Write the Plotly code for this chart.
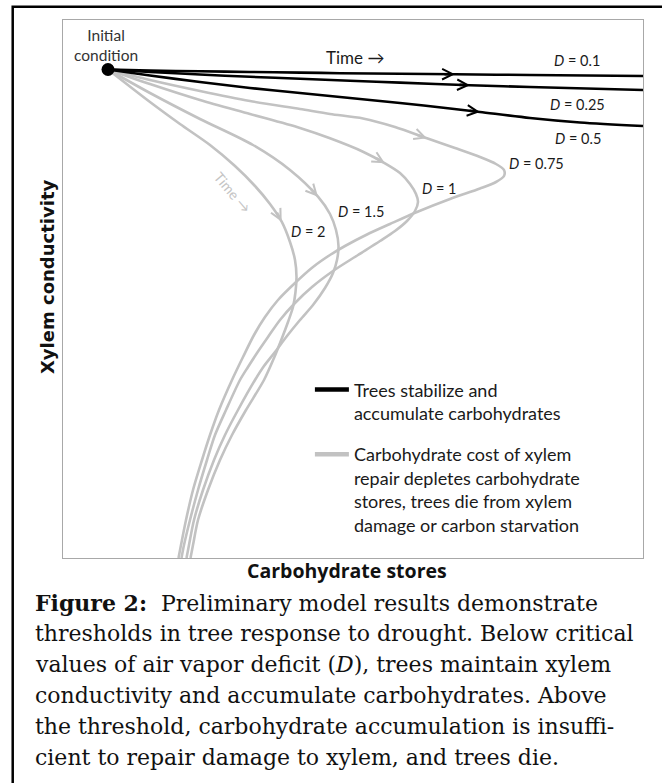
import plotly.graph_objects as go

# ---------------------------------------------------------------
# Values, in arbitrary units
# (carbohydrate stores along x, xylem conductivity along y,
#  origin at the lower-left corner of the plot box)
# ---------------------------------------------------------------
initial_x = [45]
initial_y = [488.5]

# trajectories that stabilise (black)
d01_x = [45, 87, 137, 187, 237, 277, 337, 392, 467, 580]
d01_y = [488.5, 487.5, 486.7, 486, 485.4, 484.8, 484.2, 483.7, 483, 482]

d025_x = [45, 87, 137, 187, 237, 287, 337, 407, 467, 580]
d025_y = [488.5, 486, 483.5, 481.2, 479.2, 477.2, 475.4, 472.8, 471, 468]

d05_x = [45, 87, 137, 187, 237, 287, 337, 387, 417, 467, 517, 580]
d05_y = [488.5, 482.5, 476, 470, 465, 460, 455, 449.5, 446, 440, 435.5, 432]

# trajectories that collapse (grey)
d075_x = [45, 87, 137, 187, 237, 267, 300, 332, 364, 392, 417, 433, 441, 441, 433,
          417, 387, 354, 327, 304, 282, 267, 250, 232, 215, 202, 191, 180, 169,
          156, 147, 139, 130, 123, 118, 115.5]
d075_y = [488.5, 478, 467, 457, 449, 444, 439.5, 431, 419.7, 410, 401, 394, 388, 382,
          376, 369.5, 359, 346, 334, 323.5, 312, 303, 291, 275, 258, 241, 223, 201,
          178, 148, 123, 98, 68, 38, 13, 0]

d1_x = [45, 87, 137, 187, 237, 267, 300, 322, 337, 347, 353, 355, 352, 344, 332,
        317, 295, 270, 249, 232, 217, 205, 194, 185, 177, 163, 152, 144, 135,
        127, 121, 118.5]
d1_y = [488.5, 474, 458, 444, 430, 419.7, 406.3, 394.7, 385, 374, 364, 356, 347,
        337, 327, 317, 303, 287, 271, 255, 238, 221, 205, 191, 178, 148, 123, 98,
        68, 38, 13, 0]

d15_x = [45, 87, 137, 190, 227, 255, 267, 273, 275.5, 274, 270, 262, 250, 237,
         224, 212, 201, 192, 175, 162, 151, 140, 131, 126, 123.5]
d15_y = [488.5, 465, 439, 413, 388, 361.3, 344, 328, 312, 298, 285, 270, 253, 238,
         222, 206, 192, 178, 148, 123, 98, 68, 38, 13, 0]

d2_x = [45, 87, 117, 147, 172, 192, 207, 218.7, 227, 232, 233.5, 232.5, 230, 225,
        219, 211, 201, 183, 169, 157, 145, 135, 130, 127.5]
d2_y = [488.5, 456, 434, 413, 392, 372, 354, 336.3, 316, 298, 281, 266, 251, 236,
        220, 200, 178, 148, 123, 98, 68, 38, 13, 0]

# where the "time" chevrons sit (index into each series)
arrow_index = {"0.1": 7, "0.25": 7, "0.5": 8, "0.75": 8, "1": 7, "1.5": 5, "2": 7}

legend_black = "Trees stabilize and<br>accumulate carbohydrates"
legend_grey = ("Carbohydrate cost of xylem<br>repair depletes carbohydrate<br>"
               "stores, trees die from xylem<br>damage or carbon starvation")

caption_lines = [
    "<b>Figure 2:</b>\u00a0 Preliminary model results demonstrate",
    "thresholds in tree response to drought. Below critical",
    "values of air vapor deficit (<i>D</i>), trees maintain xylem",
    "conductivity and accumulate carbohydrates. Above",
    "the threshold, carbohydrate accumulation is insuffi-",
    "cient to repair damage to xylem, and trees die.",
]

BLACK = "#000000"
GREY = "#c2c2c2"
LW = 2.6
SANS = "Lato"

series = [
    ("0.75", d075_x, d075_y, GREY),
    ("1", d1_x, d1_y, GREY),
    ("1.5", d15_x, d15_y, GREY),
    ("2", d2_x, d2_y, GREY),
    ("0.1", d01_x, d01_y, BLACK),
    ("0.25", d025_x, d025_y, BLACK),
    ("0.5", d05_x, d05_y, BLACK),
]

fig = go.Figure()
for name, xs, ys, col in series:
    fig.add_trace(go.Scatter(
        x=xs, y=ys, mode="lines", name="D = " + name,
        line=dict(color=col, width=LW, shape="spline", smoothing=0.8),
        showlegend=False, hoverinfo="skip",
        legendgroup="grey" if col == GREY else "black",
    ))

# legend keys
fig.add_trace(go.Scatter(x=[None], y=[None], mode="lines", name=legend_black,
                         line=dict(color=BLACK, width=4.5), legendgroup="black"))
fig.add_trace(go.Scatter(x=[None], y=[None], mode="lines", name=legend_grey,
                         line=dict(color=GREY, width=4.5), legendgroup="grey"))

# initial condition dot
fig.add_trace(go.Scatter(x=initial_x, y=initial_y, mode="markers",
                         marker=dict(color=BLACK, size=13), showlegend=False,
                         hoverinfo="skip"))

annotations = []

# chevrons showing the direction of time, oriented along each curve
for name, xs, ys, col in series:
    i = arrow_index[name]
    dx = xs[i + 1] - xs[i - 1]
    dy = ys[i + 1] - ys[i - 1]
    n = (dx * dx + dy * dy) ** 0.5
    annotations.append(dict(
        x=xs[i], y=ys[i], ax=xs[i] - 12 * dx / n, ay=ys[i] - 12 * dy / n,
        xref="x", yref="y", axref="x", ayref="y", text="", showarrow=True,
        arrowhead=5, arrowsize=0.8, arrowwidth=LW, arrowcolor=col, standoff=0,
    ))

def label(txt, x, y, size=14.5, color="#1a1a1a", angle=0):
    annotations.append(dict(x=x, y=y, xref="x", yref="y", text=txt,
                            showarrow=False, textangle=angle,
                            xanchor="center", yanchor="middle",
                            font=dict(family=SANS, size=size, color=color)))

label("Initial<br>condition", 43, 513, size=15.5, color="#333333")
label("Time \u2192", 292, 501, size=17)
label("<i>D</i> = 0.1", 514, 498)
label("<i>D</i> = 0.25", 514, 454)
label("<i>D</i> = 0.5", 515, 420)
label("<i>D</i> = 0.75", 473, 395)
label("<i>D</i> = 1", 376, 369.7)
label("<i>D</i> = 1.5", 297.7, 346.3)
label("<i>D</i> = 2", 245, 326.3)
label("Time \u2192", 170, 366, size=14, color="#c4c4c4", angle=50)

# axis titles (paper coordinates, outside the plot box)
annotations.append(dict(x=0.4905, y=-0.0236, xref="paper", yref="paper",
                        xanchor="center", yanchor="middle",
                        text="<b>Carbohydrate stores</b>", showarrow=False,
                        font=dict(family="Open Sans", size=19.5, color="#111111")))
annotations.append(dict(x=-0.0267, y=0.5232, xref="paper", yref="paper",
                        xanchor="center", yanchor="middle",
                        text="<b>Xylem conductivity</b>", showarrow=False,
                        textangle=-90,
                        font=dict(family="DejaVu Sans", size=18, color="#111111")))

# caption, one annotation per printed line
CAP_TOP = -0.0836      # paper y of the first line's centre
CAP_STEP = 31 / 538    # line pitch in paper units
for k, line in enumerate(caption_lines):
    annotations.append(dict(x=-0.0517, y=CAP_TOP - k * CAP_STEP,
                            xref="paper", yref="paper",
                            xanchor="left", yanchor="middle", align="left",
                            text=line, showarrow=False,
                            font=dict(family="DejaVu Serif", size=22,
                                      color="#111111")))

fig.update_layout(
    width=662, height=783, autosize=False,
    margin=dict(l=63, r=19, t=20, b=225, pad=0),
    paper_bgcolor="white", plot_bgcolor="white",
    xaxis=dict(range=[0, 580], showgrid=False, zeroline=False, showticklabels=False,
               ticks="", showline=True, mirror=True, linecolor="#a8a8a8",
               linewidth=1.3, fixedrange=True),
    yaxis=dict(range=[0, 538], showgrid=False, zeroline=False, showticklabels=False,
               ticks="", showline=True, mirror=True, linecolor="#a8a8a8",
               linewidth=1.3, fixedrange=True),
    showlegend=True,
    legend=dict(x=0.4257, y=0.347, xanchor="left", yanchor="top",
                bgcolor="rgba(0,0,0,0)", borderwidth=0, valign="top",
                traceorder="grouped", tracegroupgap=15, itemwidth=34,
                font=dict(family=SANS, size=18, color="#1a1a1a")),
    annotations=annotations,
    shapes=[dict(type="rect", xref="paper", yref="paper",
                 x0=-0.0867, x1=1.1, y0=-0.45, y1=1.0247,
                 line=dict(color="black", width=2.5), fillcolor="rgba(0,0,0,0)",
                 layer="above")],
)

fig.write_html("out.html", config={"displayModeBar": False},
               post_script="document.body.style.margin='0';")
